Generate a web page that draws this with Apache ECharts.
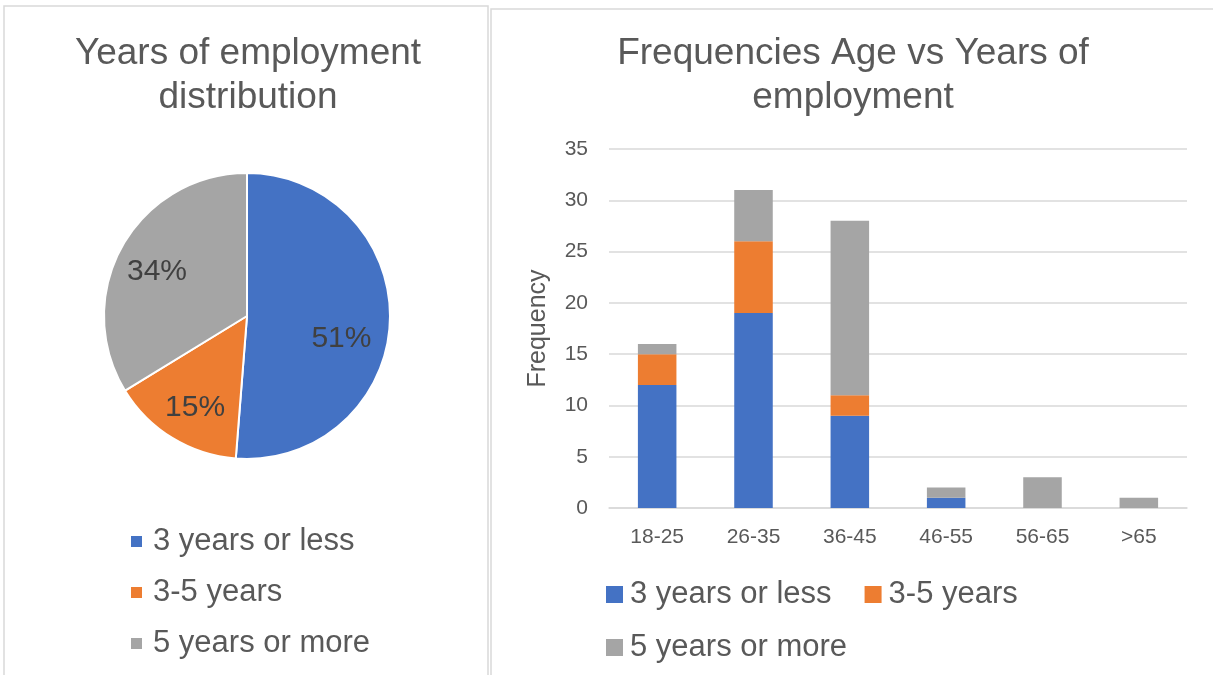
<!DOCTYPE html>
<html>
<head>
<meta charset="utf-8">
<script src="https://cdn.jsdelivr.net/npm/echarts@6/dist/echarts.min.js"></script>
<style>
  html, body { margin: 0; padding: 0; background: #fff; }
  #chart { width: 1213px; height: 675px; }
</style>
</head>
<body>
<div id="chart"></div>
<script>
"use strict";
/** Series names, shared by the pie and the stacked bars */
const groupNames = ["3 years or less", "3-5 years", "5 years or more"];
/** Pie counts (labels show rounded percents) */
const pieValues = [41, 12, 27];
/** Age bands on the bar chart */
const ageBands = ["18-25", "26-35", "36-45", "46-55", "56-65", ">65"];
const lessThan3 = [12, 19, 9, 1, 0, 0];
const from3To5 = [3, 7, 2, 0, 0, 0];
const moreThan5 = [1, 5, 17, 1, 3, 1];
const barValues = [lessThan3, from3To5, moreThan5];

/* ============= styling =================== */
const colors = ["#4472C4", "#ED7D31", "#A5A5A5"];
const textColor = "#595959";
const fontFamily = "'Liberation Sans', Arial, sans-serif";
const gridColor = "#d9d9d9";
// nudge pie labels out toward where the original drew them
const pieLabelOffsets = [[20, 20], [-13, 28], [-25, -8]];

let chart = echarts.init(document.getElementById("chart"));

let pieData = groupNames.map((name, i) => ({
    name: name,
    value: pieValues[i],
    itemStyle: { color: colors[i] },
    label: { offset: pieLabelOffsets[i] }
}));

let barSeries = groupNames.map((name, i) => ({
    name: name,
    type: "bar",
    stack: "total",
    barWidth: "40%",
    itemStyle: { color: colors[i] },
    data: barValues[i]
}));

let titleText = { color: textColor, fontSize: 37, fontWeight: "normal", lineHeight: 44, fontFamily: fontFamily };
function LegendText(gap) {
    return { color: textColor, fontSize: 31, fontFamily: fontFamily, padding: [0, 0, 0, gap] };
}

chart.setOption({
    animation: false,
    textStyle: { fontFamily: fontFamily },
    graphic: [
        { type: "rect", shape: { x: 4, y: 6, width: 484, height: 700 },
          style: { fill: "none", stroke: gridColor, lineWidth: 1.5 } },
        { type: "rect", shape: { x: 491, y: 9, width: 800, height: 700 },
          style: { fill: "none", stroke: gridColor, lineWidth: 1.5 } }
    ],
    title: [
        { text: "Years of employment\ndistribution", left: 248, top: 32, padding: 0,
          textAlign: "center", textStyle: titleText },
        { text: "Frequencies Age vs Years of\nemployment", left: 853, top: 32, padding: 0,
          textAlign: "center", textStyle: titleText }
    ],
    legend: [
        { orient: "vertical", left: 131, top: 526, padding: 0, itemWidth: 11, itemHeight: 11, itemGap: 20,
          icon: "rect", data: groupNames, textStyle: LegendText(6), selectedMode: false },
        { orient: "horizontal", left: 606, top: 579, padding: 0, itemWidth: 17, itemHeight: 17, itemGap: 33,
          icon: "rect", data: groupNames.slice(0, 2), textStyle: LegendText(2), selectedMode: false },
        { orient: "horizontal", left: 606, top: 632, padding: 0, itemWidth: 17, itemHeight: 17,
          icon: "rect", data: groupNames.slice(2), textStyle: LegendText(2), selectedMode: false }
    ],
    grid: { left: 609, right: 26, top: 149, bottom: 167, containLabel: false },
    xAxis: {
        type: "category",
        data: ageBands,
        axisTick: { show: false },
        axisLine: { lineStyle: { color: gridColor, width: 1.5 } },
        axisLabel: { color: textColor, fontSize: 21, margin: 19 }
    },
    yAxis: {
        type: "value",
        min: 0,
        max: 35,
        interval: 5,
        name: "Frequency",
        nameLocation: "middle",
        nameRotate: 90,
        nameGap: 58,
        nameTextStyle: { color: textColor, fontSize: 25 },
        axisLine: { show: false },
        axisTick: { show: false },
        splitLine: { lineStyle: { color: gridColor, width: 1.5 } },
        axisLabel: { color: textColor, fontSize: 21, margin: 21 }
    },
    series: [
        {
            type: "pie",
            center: [247, 316],
            radius: 143,
            startAngle: 90,
            clockwise: true,
            percentPrecision: 0,
            itemStyle: { borderColor: "#fff", borderWidth: 2 },
            label: { position: "inside", formatter: "{d}%", color: "#404040", fontSize: 30 },
            labelLine: { show: false },
            emphasis: { disabled: true },
            data: pieData
        }
    ].concat(barSeries)
});
</script>
</body>
</html>
